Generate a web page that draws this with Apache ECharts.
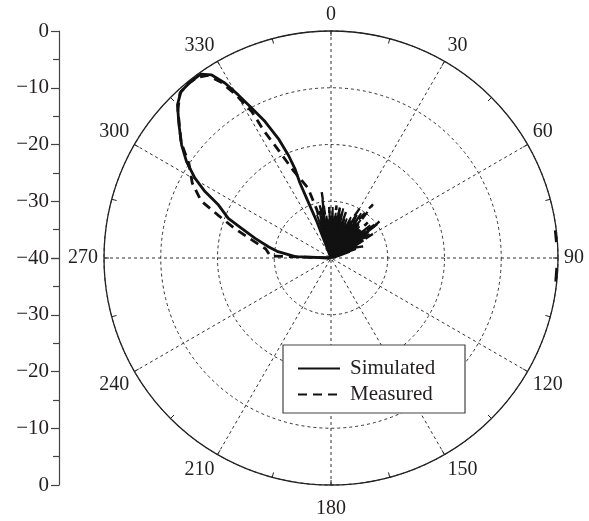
<!DOCTYPE html>
<html>
<head>
<meta charset="utf-8">
<script src="https://cdn.jsdelivr.net/npm/echarts@6/dist/echarts.min.js"></script>
<style>
  html, body { margin: 0; padding: 0; background: #fff; }
  #chart { width: 589px; height: 521px; }
</style>
</head>
<body>
<div id="chart"></div>
<script>
// Angular ticks (degrees, clockwise from top) and their labels
const angleTicks = [0, 30, 60, 90, 120, 150, 180, 210, 240, 270, 300, 330];
const angleLabels = ['0', '30', '60', '90', '120', '150', '180', '210', '240', '270', '300', '330'];
// Radial scale in dB (centre = -40, rim = 0)
const radialTicks = [-40, -30, -20, -10, 0];
// Side scale tick values
const sideTicks = [0, -10, -20, -30, -40];

// Main lobe, simulated: [dB, angle]
const simulatedLobe = [
  [-40, 338], [-33.2, 338.7], [-28.9, 337.8], [-25.7, 337.5], [-23.0, 338.0],
  [-20.4, 337.5], [-17.0, 336.2], [-13.3, 334.2], [-10.1, 332.1], [-7.0, 330.4],
  [-4.0, 328.8], [-1.5, 326.9], [-0.3, 324.7], [-0.3, 321.3], [-0.5, 318],
  [-1.8, 314.9], [-4.4, 311.2], [-7.0, 307.1], [-9.4, 303.7], [-12.2, 300.4],
  [-14.9, 297.8], [-18.1, 295.2], [-20.6, 291.1], [-23.4, 288.4], [-26.2, 284.5],
  [-28.8, 280.2], [-30.6, 276.8], [-33.7, 272.1], [-40, 270]
];

// Main lobe, measured: [dB, angle]
const measuredLobe = [
  [-40, 343], [-31.2, 343.7], [-27.0, 341.8], [-23.1, 336.6], [-19.0, 334.1],
  [-14.7, 332.2], [-10.7, 331.6], [-6.8, 329.8], [-3.5, 328], [-1.2, 326],
  [-0.4, 323.5], [-0.3, 320.5], [-0.6, 317.5], [-2.5, 314], [-6.6, 307.7],
  [-10.0, 303.5], [-12.2, 298.4], [-15.0, 293.7], [-18.9, 290.6], [-22.1, 287.2],
  [-25.1, 283.7], [-28.4, 277.9], [-29.3, 271.9], [-29.0, 270.3], [-40, 270]
];

// Back lobes, simulated: [dB, angle]
const simulatedBack = [
  [-40, 340], [-32, 342], [-35, 344], [-31.5, 346], [-34, 348], [-31, 350],
  [-35, 352], [-32.5, 354], [-36, 356], [-31.5, 358], [-34.5, 0], [-31, 2],
  [-35, 4], [-32, 6], [-34, 8], [-31, 10], [-33.5, 12], [-31, 14], [-35, 16],
  [-33, 18], [-36, 20], [-32.5, 22], [-35.5, 24], [-32, 26], [-34.5, 28],
  [-31.5, 30], [-35, 32], [-30.5, 34], [-34, 36], [-31.5, 38], [-35.5, 40],
  [-32.5, 42], [-35, 44], [-33, 46], [-35.5, 48], [-31, 50], [-34, 52],
  [-30, 54], [-34, 56], [-32, 58], [-35, 60], [-33.5, 62], [-36, 64],
  [-35, 66], [-37.5, 69], [-36.5, 72], [-38.5, 76], [-39.5, 82], [-40, 85]
];

// Back lobes, measured: [dB, angle]
const measuredBack = [
  [-40, 344], [-30.5, 348], [-34, 350], [-28.3, 352], [-38, 354], [-31, 358],
  [-36, 2], [-30.7, 6], [-35, 8], [-31, 10], [-38, 14], [-31.5, 18], [-36, 22],
  [-30, 30], [-34, 33], [-28, 38], [-36, 42], [-31, 46], [-35, 49], [-29.3, 53],
  [-33, 56], [-31.5, 60], [-36, 64], [-34, 70], [-40, 75]
];

// Short measured traces on the rim either side of 90°
const measuredRimA = [[-0.2, 83], [-0.2, 86]];
const measuredRimB = [[-0.2, 92.5], [-0.2, 96]];

const INK = '#111';
const GRID = '#333';
const TEXT = '#231f20';
const FONT = 'Liberation Serif';
const minus = v => (v < 0 ? '\u2212' + Math.abs(v) : String(v));

const chart = echarts.init(document.getElementById('chart'), null, { renderer: 'canvas' });

const sideAxisCommon = {
  type: 'value',
  min: radialTicks[0],
  max: radialTicks[radialTicks.length - 1],
  interval: 10,
  axisLine: { show: true, lineStyle: { color: '#444', width: 1.2 } },
  axisTick: { show: true, length: 8, lineStyle: { color: '#444', width: 1.2 } },
  minorTick: { show: true, splitNumber: 2, length: 6, lineStyle: { color: '#444', width: 1.2 } },
  splitLine: { show: false },
  axisLabel: {
    margin: 10,
    color: TEXT,
    fontFamily: FONT,
    fontSize: 21,
    formatter: v => (sideTicks.indexOf(v) >= 0 ? minus(v) : '')
  }
};

const dashed = [9, 6];

chart.setOption({
  animation: false,
  backgroundColor: '#fff',
  grid: [
    { left: 59, top: 31, width: 60, height: 227 },
    { left: 59, top: 258, width: 60, height: 227 }
  ],
  xAxis: [
    { gridIndex: 0, type: 'value', show: false },
    { gridIndex: 1, type: 'value', show: false }
  ],
  yAxis: [
    Object.assign({ gridIndex: 0 }, sideAxisCommon),
    Object.assign({ gridIndex: 1, inverse: true }, sideAxisCommon, {
      axisLabel: Object.assign({}, sideAxisCommon.axisLabel, { showMinLabel: false })
    })
  ],
  polar: { center: [331, 258], radius: 227 },
  angleAxis: {
    type: 'value',
    min: 0,
    max: 360,
    interval: 30,
    startAngle: 90,
    clockwise: true,
    axisLine: { show: true, lineStyle: { color: '#222', width: 1.3 } },
    axisTick: { show: true, inside: true, length: 5, lineStyle: { color: '#222' } },
    minorTick: { show: true, splitNumber: 2, length: 5, lineStyle: { color: '#222', width: 1 } },
    splitLine: { show: true, lineStyle: { color: GRID, width: 1, type: [3, 3] } },
    axisLabel: {
      margin: 6,
      color: TEXT,
      fontFamily: FONT,
      fontSize: 20,
      formatter: v => {
        const s = angleLabels[angleTicks.indexOf(v)] || '';
        return v === 180 ? '{low|' + s + '}' : s;
      },
      rich: {
        low: { padding: [8, 0, 0, 0], color: TEXT, fontFamily: FONT, fontSize: 20 }
      }
    }
  },
  radiusAxis: {
    type: 'value',
    min: radialTicks[0],
    max: radialTicks[radialTicks.length - 1],
    interval: 10,
    axisLine: { show: false },
    axisTick: { show: false },
    axisLabel: { show: false },
    splitLine: { show: true, lineStyle: { color: GRID, width: 1, type: [3, 3] } }
  },
  graphic: [{
    type: 'rect',
    z: 10,
    shape: { x: 283, y: 345, width: 182, height: 68 },
    style: { fill: '#fff', stroke: '#444', lineWidth: 1.2 }
  }],
  legend: {
    z: 20,
    orient: 'vertical',
    left: 283,
    top: 345,
    padding: [13, 10, 7, 14],
    itemWidth: 42,
    itemHeight: 14,
    itemGap: 5,
    data: ['Simulated', 'Measured'],
    itemStyle: { opacity: 0 },
    textStyle: { color: TEXT, fontFamily: FONT, fontSize: 21, padding: [0, 0, 0, 5] }
  },
  series: [
    {
      name: 'Simulated', type: 'line', coordinateSystem: 'polar',
      data: simulatedLobe, symbol: 'none', z: 3,
      itemStyle: { color: INK },
      lineStyle: { color: INK, width: 2.8 }
    },
    {
      name: 'Measured', type: 'line', coordinateSystem: 'polar',
      data: measuredLobe, symbol: 'none', z: 3,
      itemStyle: { color: INK },
      lineStyle: { color: INK, width: 2.8, type: dashed }
    },
    {
      name: 'Simulated', type: 'line', coordinateSystem: 'polar',
      data: simulatedBack, symbol: 'none', z: 3,
      itemStyle: { color: INK },
      lineStyle: { color: INK, width: 1.8 },
      areaStyle: { origin: 'start', color: INK, opacity: 1 }
    },
    {
      name: 'Measured', type: 'line', coordinateSystem: 'polar',
      data: measuredBack, symbol: 'none', z: 3,
      itemStyle: { color: INK },
      lineStyle: { color: INK, width: 2.4, type: dashed }
    },
    {
      name: 'Measured', type: 'line', coordinateSystem: 'polar',
      data: measuredRimA, symbol: 'none', z: 3,
      itemStyle: { color: INK },
      lineStyle: { color: INK, width: 2.6 }
    },
    {
      name: 'Measured', type: 'line', coordinateSystem: 'polar',
      data: measuredRimB, symbol: 'none', z: 3,
      itemStyle: { color: INK },
      lineStyle: { color: INK, width: 2.6 }
    }
  ]
});
</script>
</body>
</html>
